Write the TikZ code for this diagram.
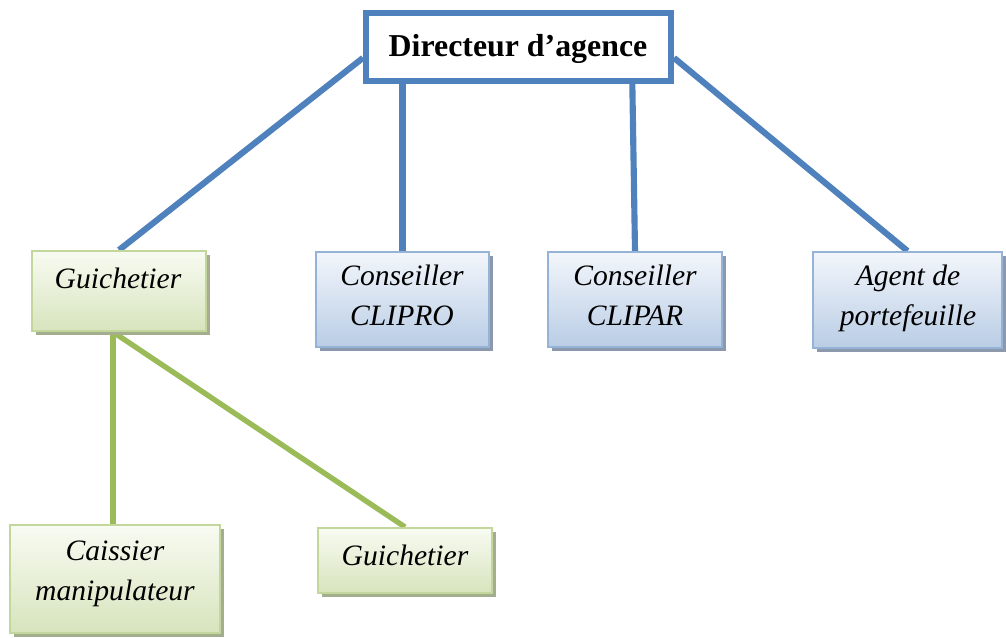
\documentclass[tikz,border=0pt]{standalone}
\usepackage{fontspec}
\setmainfont{Liberation Serif}
\usetikzlibrary{fit,shadows,backgrounds}
\definecolor{bline}{HTML}{4F81BD}
\definecolor{gline}{HTML}{9BBB59}
\definecolor{bborder}{HTML}{95B3D7}
\definecolor{btop}{HTML}{F3F6FB}
\definecolor{bbot}{HTML}{B9CDE5}
\definecolor{bshadow}{HTML}{8C99AC}
\definecolor{gborder}{HTML}{C3D69B}
\definecolor{gtop}{HTML}{F8FBF2}
\definecolor{gbot}{HTML}{D7E4BD}
\definecolor{gshadow}{HTML}{A4AD8E}
\tikzset{
  dirbox/.style={draw=bline, line width=4.5pt, fill=white, inner sep=0pt},
  bluebox/.style={draw=bborder, line width=1.5pt, top color=btop, bottom color=bbot, inner sep=0pt,
    drop shadow={shadow xshift=3pt, shadow yshift=-3pt, fill=bshadow, opacity=1}},
  greenbox/.style={draw=gborder, line width=1.5pt, top color=gtop, bottom color=gbot, inner sep=0pt,
    drop shadow={shadow xshift=3pt, shadow yshift=-3pt, fill=gshadow, opacity=1}},
  txt/.style={font=\fontsize{22.2}{30}\selectfont\itshape, align=center, inner sep=0pt, anchor=base},
  dirtxt/.style={font=\fontsize{23.9}{28}\selectfont\bfseries, inner sep=0pt, anchor=base},
  bconn/.style={draw=bline, line width=4.6pt},
  gconn/.style={draw=gline, line width=4pt}
}
\begin{document}
\begin{tikzpicture}[x=0.75pt,y=-0.75pt]
\useasboundingbox (0,0) rectangle (1006,637);
% boxes
\node[dirbox, fit={(366,13) (671,81)}] (dir) {};
\node[dirtxt] (dirt) at (518,56) {Directeur d’agence};
\node[greenbox, fit={(32,251) (206,331)}] (g1) {};
\node[txt] (g1t) at (118,288) {Guichetier};
\node[bluebox, fit={(316,252) (489,347)}] (c1) {};
\node[txt] (c1t) at (402,325) {Conseiller\\CLIPRO};
\node[bluebox, fit={(548,252) (722,347)}] (c2) {};
\node[txt] (c2t) at (635,325) {Conseiller\\CLIPAR};
\node[bluebox, fit={(813,252) (1002,348)}] (ag) {};
\node[txt] (agt) at (908,325) {Agent de\\portefeuille};
\node[greenbox, fit={(10,525) (220,633)}] (ca) {};
\node[txt] (cat) at (115,600) {Caissier\\manipulateur};
\node[greenbox, fit={(318,528) (492,593)}] (g2) {};
\node[txt] (g2t) at (405,565) {Guichetier};
% connectors
\begin{scope}[on background layer]
\draw[bconn] (dir.184) -- (g1.north);
\draw[bconn] (dir.south -| c1.north) -- (c1.north);
\draw[bconn] ([xshift=-2pt]dir.south -| c2.north) -- (c2.north);
\draw[bconn] (dir.356) -- (ag.north);
\draw[gconn] ([xshift=-4.5pt]g1.south) -- ([xshift=-4.5pt]g1.south |- ca.north);
\draw[gconn] ([xshift=-4.5pt]g1.south) -- (g2.north);
\end{scope}
\end{tikzpicture}
\end{document}
